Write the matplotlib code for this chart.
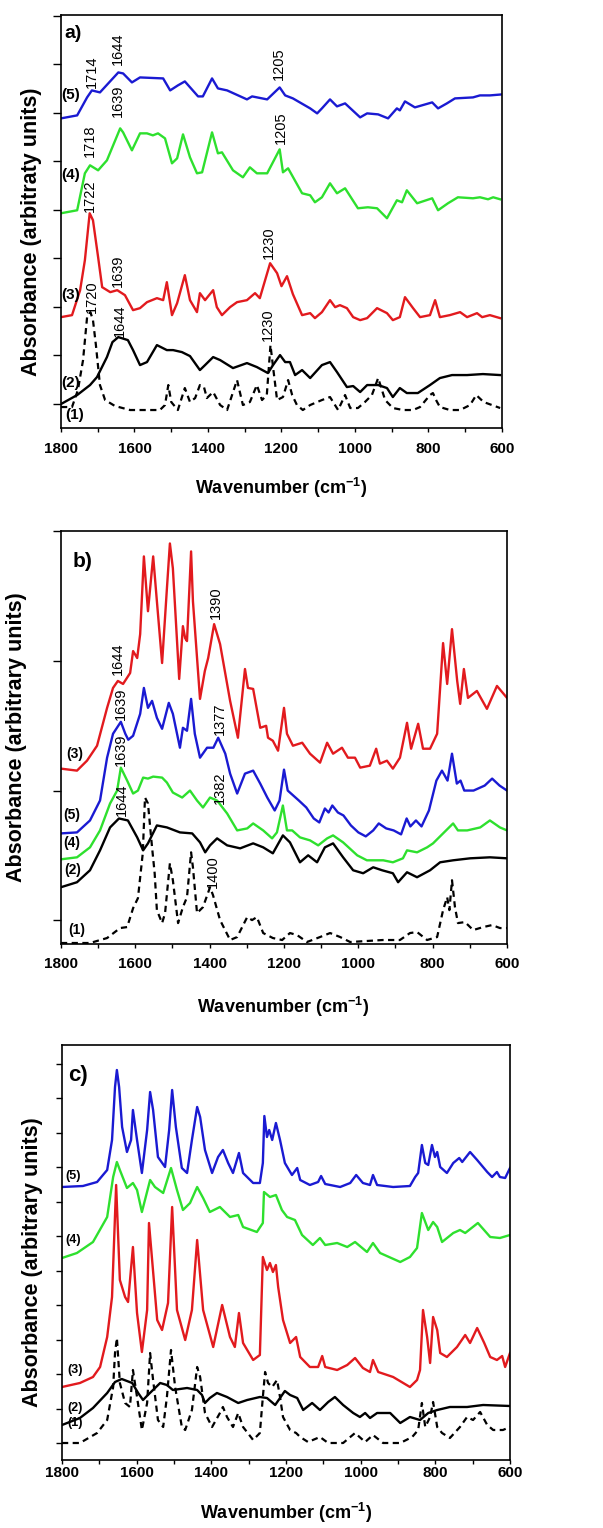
import numpy as np
import matplotlib
matplotlib.use("Agg")
import matplotlib.pyplot as plt

plt.rcParams['font.family'] = ['Liberation Sans', 'DejaVu Sans']
plt.rcParams['mathtext.fontset'] = 'custom'
plt.rcParams['mathtext.rm'] = 'Liberation Sans'
plt.rcParams['mathtext.bf'] = 'Liberation Sans:bold'

# ---------------- Panel a data (wavenumber, absorbance in arbitrary units) ----------------
A5_w = [1800,1756,1729,1716,1694,1644,1631,1607,1585,1522,1503,1482,1463,1427,1414,1389,1373,1348,1294,1280,1239,1205,1190,1169,1122,1103,1090,1068,1049,1027,986,967,937,910,886,878,864,837,790,774,750,728,679,660,633,600]
A5_y = [286,289,307,314,312,332,331,322,327,326,314,319,323,308,308,326,316,314,305,308,305,317,309,306,296,291,296,305,298,301,287,291,290,286,296,294,303,297,302,296,301,306,307,309,309,310]

A4_w = [1800,1756,1735,1721,1699,1675,1639,1631,1607,1585,1566,1550,1536,1517,1498,1484,1468,1449,1430,1416,1389,1373,1362,1332,1305,1286,1267,1239,1205,1196,1182,1144,1122,1109,1090,1068,1049,1027,992,965,940,913,886,872,859,831,790,774,747,720,679,660,638,624,605]
A4_y = [191,194,231,239,234,244,276,272,254,271,271,269,271,266,241,246,270,247,231,232,272,251,252,234,227,237,231,231,255,232,236,211,209,202,207,221,211,216,196,197,196,186,204,202,214,201,206,194,201,207,206,207,205,207,205]

A3_w = [1800,1770,1748,1735,1722,1713,1699,1688,1666,1647,1626,1604,1585,1566,1539,1522,1512,1498,1484,1463,1449,1430,1422,1408,1386,1376,1362,1340,1321,1294,1272,1259,1231,1212,1200,1185,1169,1144,1122,1109,1090,1068,1054,1041,1022,1005,986,967,940,913,897,878,864,842,823,796,782,769,742,714,695,668,654,633,605]
A3_y = [87,89,114,144,191,184,147,117,112,114,109,94,96,102,106,104,122,89,101,129,104,92,111,104,114,97,89,97,102,104,111,106,141,131,118,128,110,89,91,86,92,104,97,99,96,87,84,86,96,91,84,87,107,96,87,89,104,87,89,92,87,91,87,89,86]

A2_w = [1800,1756,1721,1702,1675,1660,1644,1618,1604,1585,1566,1539,1512,1495,1471,1449,1422,1408,1386,1367,1332,1294,1267,1237,1223,1204,1190,1177,1163,1144,1122,1090,1068,1049,1022,1005,986,967,937,913,897,878,859,829,796,769,736,695,652,605]
A2_y = [0,9,19,27,47,62,67,64,54,39,42,59,54,54,52,48,34,39,47,44,36,41,37,31,39,49,42,42,29,34,26,39,42,32,17,18,12,19,19,16,7,16,11,11,19,26,29,29,30,29]

A1_w = [1800,1770,1754,1740,1729,1720,1713,1705,1694,1680,1653,1612,1531,1517,1508,1500,1482,1463,1449,1435,1422,1411,1403,1386,1367,1348,1321,1305,1286,1267,1253,1240,1230,1222,1212,1196,1182,1171,1158,1142,1122,1090,1068,1046,1027,1013,992,973,954,937,918,897,869,842,823,796,788,778,769,742,714,687,670,650,605]
A1_y = [-3,-3,14,44,87,92,84,59,19,4,-2,-6,-6,-1,19,2,-6,16,2,6,19,17,6,12,-1,-6,24,-1,2,19,4,9,59,34,4,7,24,9,-1,-6,-1,4,7,-6,9,-4,-4,2,9,26,4,-4,-6,-6,-3,9,11,3,-3,-6,-6,-1,9,2,-4]

A_peak_text = ["1714","1644","1205","1639","1718","1205","1722","1230","1639","1720","1644","1230"]
A_peak_x = [1716,1645,1207,1645,1721,1201,1721,1234,1645,1716,1639,1237]
A_peak_y = [333,356,341,304,264,277,209,162,133,107,83,79]

# ---------------- Panel b data ----------------
B3_w = [1800,1757,1730,1703,1676,1660,1647,1633,1614,1606,1595,1587,1577,1566,1552,1542,1528,1515,1507,1499,1482,1472,1466,1461,1450,1445,1426,1413,1404,1388,1372,1345,1324,1305,1297,1283,1264,1248,1243,1230,1216,1200,1192,1176,1151,1130,1103,1084,1068,1044,1028,1009,995,969,952,942,923,907,888,869,858,839,826,807,788,772,761,748,734,726,716,705,681,654,627,600]
B3_y = [152,150,160,175,213,233,240,237,248,270,263,287,365,310,365,320,258,333,378,353,242,295,283,280,370,320,222,250,263,297,277,220,183,252,233,232,193,195,183,180,170,213,187,175,178,167,158,178,167,173,163,163,153,155,172,157,160,152,163,198,172,197,172,172,187,278,237,292,240,217,252,223,230,212,235,223]

B5_w = [1800,1757,1722,1695,1676,1660,1639,1627,1619,1606,1587,1577,1566,1555,1542,1528,1510,1499,1480,1472,1461,1450,1440,1426,1407,1390,1377,1358,1345,1326,1305,1283,1264,1245,1225,1212,1200,1190,1175,1160,1140,1120,1105,1090,1080,1070,1055,1040,1020,1000,980,960,945,925,905,885,870,860,845,830,810,790,775,760,748,735,725,715,690,660,640,620,600]
B5_y = [87,88,100,120,163,187,199,187,181,185,207,233,213,220,203,192,218,207,173,193,190,222,187,163,173,173,183,167,147,127,147,150,137,123,110,120,151,130,125,120,113,102,98,112,108,115,108,105,95,88,84,90,97,92,90,86,102,94,100,94,110,140,150,140,167,137,140,130,130,135,142,135,130]

B4_w = [1800,1757,1722,1695,1668,1649,1639,1622,1606,1593,1579,1566,1552,1528,1515,1499,1474,1453,1434,1418,1399,1380,1353,1326,1299,1283,1256,1232,1219,1203,1192,1178,1157,1130,1108,1084,1068,1041,1003,977,933,907,880,869,842,815,799,772,745,732,707,672,646,619,600]
B4_y = [61,63,73,90,117,130,153,140,127,130,143,142,144,143,138,128,123,130,120,113,123,120,107,90,92,97,90,82,88,115,90,90,83,80,75,82,85,78,65,60,60,58,62,70,68,73,77,87,97,90,90,93,100,93,90]

B2_w = [1800,1757,1722,1695,1668,1644,1620,1595,1579,1566,1542,1515,1480,1447,1426,1412,1399,1380,1353,1318,1283,1256,1230,1203,1184,1157,1135,1111,1090,1068,1041,1014,987,960,936,907,893,869,842,807,780,745,699,646,600]
B2_y = [33,38,50,70,93,102,100,83,70,77,95,93,88,87,78,68,75,82,75,72,77,73,67,85,78,58,65,58,73,77,63,50,47,53,50,47,38,48,43,50,58,60,62,63,62]

B1_w = [1800,1722,1676,1641,1622,1606,1593,1580,1574,1566,1555,1548,1542,1528,1520,1507,1499,1485,1472,1461,1450,1445,1434,1418,1399,1391,1372,1345,1326,1299,1286,1273,1256,1230,1205,1184,1165,1138,1103,1076,1049,1022,934,888,861,842,815,788,772,761,755,748,740,732,713,691,664,640,619,600]
B1_y = [-23,-23,-18,-8,-7,12,22,67,123,117,73,47,10,-3,7,57,40,-3,13,23,68,53,7,13,33,25,0,-20,-17,3,0,3,-13,-18,-20,-13,-15,-22,-17,-13,-17,-22,-20,-20,-13,-12,-20,-17,10,23,10,40,13,-3,-2,-10,-7,-5,-8,-8]

B_peak_text = ["1644","1390","1639","1377","1639","1382","1644","1400"]
B_peak_x = [1647,1383,1639,1372,1639,1372,1636,1391]
B_peak_y = [262,319,217,202,171,133,121,49]

# ---------------- Panel c data ----------------
C5_w = [1800,1744,1706,1679,1666,1658,1653,1647,1639,1626,1615,1610,1599,1586,1572,1564,1556,1543,1524,1513,1505,1495,1479,1465,1452,1438,1430,1417,1398,1382,1369,1355,1342,1326,1315,1288,1270,1262,1258,1251,1245,1237,1227,1216,1203,1184,1170,1162,1136,1114,1106,1095,1055,1028,1012,994,975,967,956,913,868,854,846,836,827,819,809,801,795,787,769,752,736,728,707,688,661,648,635,627,613,600]
C5_y = [256,257,261,273,303,356,373,356,316,291,303,333,303,270,313,351,333,286,276,313,353,316,275,270,303,336,326,293,270,286,293,280,270,290,270,260,260,280,327,306,313,303,320,303,280,268,275,263,258,261,267,259,256,260,268,260,258,268,258,256,257,266,270,298,280,278,298,286,291,276,270,280,285,281,291,283,271,266,271,266,265,275]

C4_w = [1800,1760,1717,1679,1663,1653,1645,1626,1610,1599,1586,1564,1551,1529,1508,1492,1476,1457,1438,1422,1404,1377,1350,1328,1315,1278,1262,1259,1243,1227,1211,1197,1176,1157,1128,1109,1095,1063,1036,1015,983,967,948,894,868,849,836,819,806,795,782,752,734,720,686,653,627,600]
C4_y = [185,190,201,226,266,281,273,255,260,253,231,263,256,250,275,253,233,240,256,245,231,236,226,228,216,211,220,251,246,248,233,226,223,208,198,205,198,200,196,201,191,200,190,181,186,195,230,213,221,216,201,210,213,210,220,206,205,208]

C3_w = [1800,1752,1717,1698,1679,1666,1655,1645,1631,1623,1610,1599,1586,1572,1567,1545,1532,1516,1505,1492,1470,1452,1438,1422,1395,1371,1350,1337,1326,1315,1288,1270,1262,1251,1243,1235,1227,1221,1208,1189,1173,1162,1136,1114,1103,1095,1063,1036,1015,994,975,967,953,913,868,849,841,833,822,814,806,795,787,769,742,720,707,688,669,653,635,621,613,600]
C3_y = [56,60,66,76,106,146,258,163,146,141,196,130,91,133,220,123,113,140,236,133,103,133,203,133,96,138,106,96,130,100,83,88,186,173,180,171,178,156,123,100,106,86,76,76,87,76,73,78,85,75,71,83,71,66,56,63,73,133,106,80,126,113,90,86,96,108,100,115,100,86,83,87,76,90]

C2_w = [1800,1752,1717,1679,1658,1640,1612,1596,1583,1570,1537,1519,1503,1465,1438,1425,1417,1404,1385,1358,1328,1304,1270,1251,1229,1203,1189,1170,1154,1130,1109,1087,1069,1047,1020,1002,988,975,956,921,894,868,841,819,795,761,715,672,600]
C2_y = [18,25,35,50,61,64,60,50,43,48,60,58,53,55,53,48,40,45,50,46,40,43,46,45,38,52,48,45,33,40,33,41,46,38,30,26,30,25,30,30,20,26,23,30,33,36,36,38,37]

C1_w = [1800,1752,1706,1679,1663,1658,1653,1645,1631,1618,1610,1599,1586,1572,1564,1556,1543,1529,1519,1508,1497,1479,1470,1452,1438,1430,1417,1398,1377,1369,1358,1342,1328,1315,1288,1270,1262,1256,1248,1237,1224,1216,1208,1189,1173,1162,1141,1109,1087,1047,1015,988,967,940,894,862,846,836,827,814,806,795,782,761,734,715,699,680,661,645,619,600]
C1_y = [0,0,10,23,56,90,105,60,40,36,73,46,13,40,90,63,23,16,46,93,56,16,13,33,76,66,30,16,30,36,26,16,30,16,3,10,46,71,60,56,63,46,26,13,10,6,1,6,0,0,10,1,8,0,0,6,13,40,16,26,41,16,10,5,16,26,23,31,18,13,13,16]

x_ticks = [1800, 1600, 1400, 1200, 1000, 800, 600]

# curve-number labels: (text, wavenumber, value)
A_num = [("(5)", 1773, 309), ("(4)", 1773, 229), ("(3)", 1773, 109), ("(2)", 1773, 21), ("(1)", 1762, -11)]
B_num = [("(3)", 1762, 167), ("(5)", 1770, 105), ("(4)", 1770, 77), ("(2)", 1768, 50), ("(1)", 1757, -10)]
C_num = [("(5)", 1771, 267), ("(4)", 1771, 203), ("(3)", 1765, 73), ("(2)", 1765, 35), ("(1)", 1765, 20)]

BLUE = '#1a1ad2'
GREEN = '#2ee02e'
RED = '#e21a1e'
W, H = 603, 1528

fig = plt.figure(figsize=(W / 100, H / 100), dpi=100)


def rect(l, t, r, b):
    return [l / W, 1 - b / H, (r - l) / W, (b - t) / H]


def fx(px):
    return px / W


def fy(py):
    return 1 - py / H


def style_axes(ax, yticks, ylim, ytlen, xtlen, xpad, minor_visible):
    ax.set_xlim(1800, 600)
    ax.set_ylim(*ylim)
    ax.set_xticks(x_ticks)
    ax.set_xticks(list(range(600, 1801, 100)), minor=True)
    ax.set_yticks(yticks)
    ax.set_yticklabels([])
    ax.tick_params(axis='x', which='both', direction='out', length=xtlen, width=1.0,
                   labelsize=11, pad=xpad, top=False)
    ax.tick_params(axis='y', which='both', direction='out', length=ytlen, width=1.0, right=False)
    for lab in ax.get_xticklabels():
        lab.set_fontweight('bold')
    for s in ax.spines.values():
        s.set_linewidth(1.2)


LW = 1.7
DASH = (0, (2.8, 2.0))

# ---------------- Panel a ----------------
axa = fig.add_axes(rect(61, 15, 502, 428))
axa.plot(A1_w, A1_y, color='black', lw=1.6, ls=DASH)
axa.plot(A2_w, A2_y, color='black', lw=LW)
axa.plot(A3_w, A3_y, color=RED, lw=LW)
axa.plot(A4_w, A4_y, color=GREEN, lw=LW)
axa.plot(A5_w, A5_y, color=BLUE, lw=LW)
style_axes(axa, np.arange(0, 9) * 48.6, (-24, 389.5), 5.5, 3, 7.2, False)
for t, x, y in zip(A_peak_text, A_peak_x, A_peak_y):
    axa.text(x, y, t, rotation=90, ha='center', va='center', fontsize=10.5)
for t, x, y in A_num:
    axa.text(x, y, t, ha='center', va='center', fontsize=11, fontweight='bold')
axa.text(1767, 371, 'a)', ha='center', va='center', fontsize=14, fontweight='bold')
fig.text(fx(32), fy(232), 'Absorbance (arbitraty units)', rotation=90, ha='center', va='center',
         fontsize=15.5, fontweight='bold')
fig.text(fx(281), fy(488), r'Wavenumber (cm$^{\mathbf{-1}}$)', ha='center', va='center',
         fontsize=13, fontweight='bold')

# ---------------- Panel b ----------------
axb = fig.add_axes(rect(61, 531, 507, 944))
axb.plot(B1_w, B1_y, color='black', lw=1.6, ls=DASH)
axb.plot(B2_w, B2_y, color='black', lw=LW)
axb.plot(B4_w, B4_y, color=GREEN, lw=LW)
axb.plot(B5_w, B5_y, color=BLUE, lw=LW)
axb.plot(B3_w, B3_y, color=RED, lw=LW)
style_axes(axb, np.arange(0, 4) * 130, (-24, 390.5), 5.5, 3, 6.5, False)
for t, x, y in zip(B_peak_text, B_peak_x, B_peak_y):
    axb.text(x, y, t, rotation=90, ha='center', va='center', fontsize=10.5)
for t, x, y in B_num:
    axb.text(x, y, t, ha='center', va='center', fontsize=10, fontweight='bold')
axb.text(1743, 360, 'b)', ha='center', va='center', fontsize=15, fontweight='bold')
fig.text(fx(17), fy(737), 'Absorbance (arbitrary units)', rotation=90, ha='center', va='center',
         fontsize=15.5, fontweight='bold')
fig.text(fx(283), fy(1007), r'Wavenumber (cm$^{\mathbf{-1}}$)', ha='center', va='center',
         fontsize=13, fontweight='bold')

# ---------------- Panel c ----------------
axc = fig.add_axes(rect(62, 1045, 510, 1460))
axc.plot(C1_w, C1_y, color='black', lw=1.6, ls=DASH)
axc.plot(C2_w, C2_y, color='black', lw=LW)
axc.plot(C3_w, C3_y, color=RED, lw=LW)
axc.plot(C4_w, C4_y, color=GREEN, lw=LW)
axc.plot(C5_w, C5_y, color=BLUE, lw=LW)
style_axes(axc, np.arange(0, 12) * 34.5, (-17, 398), 4, 3, 1.0, True)
for t, x, y in C_num:
    axc.text(x, y, t, ha='center', va='center', fontsize=9, fontweight='bold')
axc.text(1757, 368, 'c)', ha='center', va='center', fontsize=16, fontweight='bold')
fig.text(fx(33), fy(1262), 'Absorbance (arbitrary units)', rotation=90, ha='center', va='center',
         fontsize=15.5, fontweight='bold')
fig.text(fx(286), fy(1513), r'Wavenumber (cm$^{\mathbf{-1}}$)', ha='center', va='center',
         fontsize=13, fontweight='bold')

fig.savefig('out.png', dpi=100)
